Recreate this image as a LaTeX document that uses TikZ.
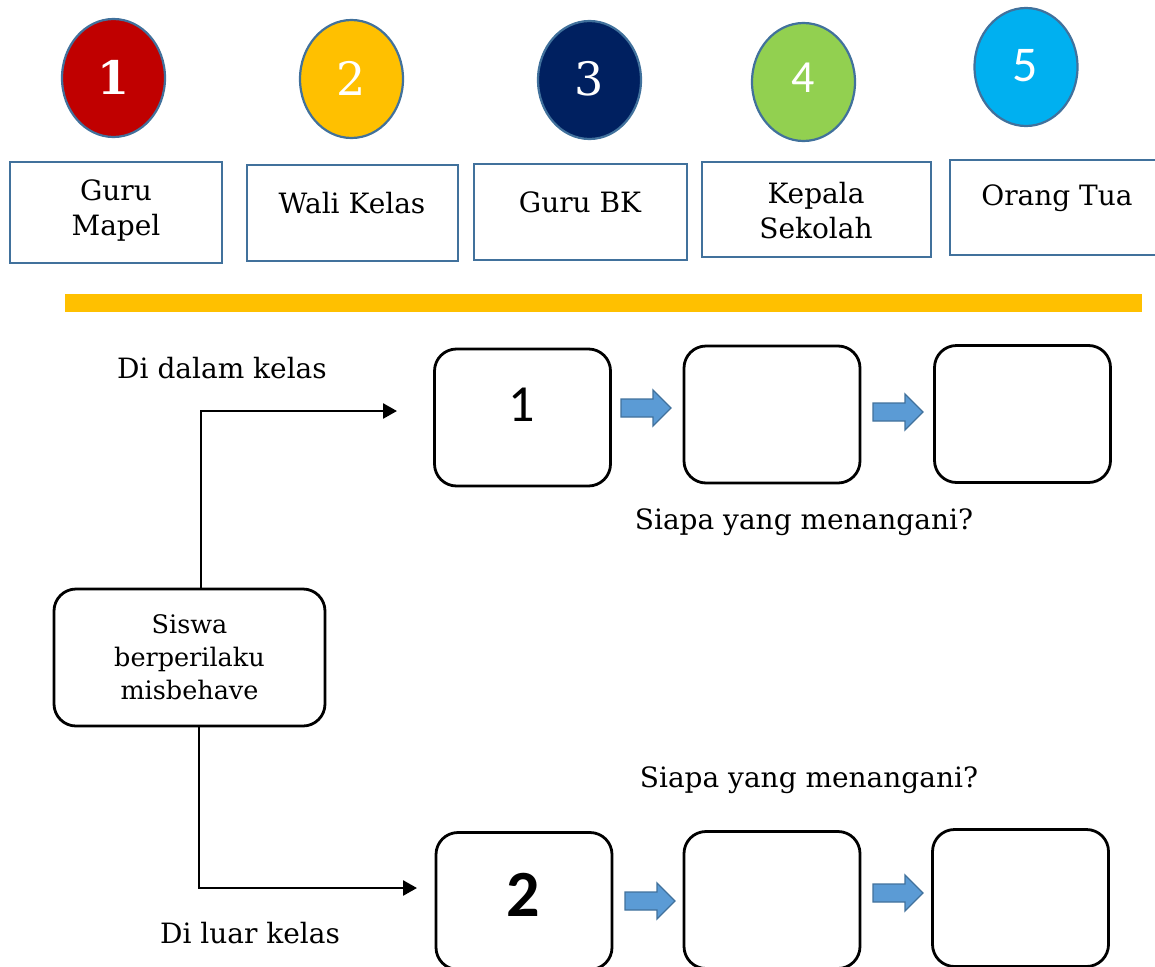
\documentclass[tikz,border=0pt]{standalone}
\usepackage{fontspec}
\setmainfont{DejaVu Serif}
\newfontfamily\calib{Carlito}
\usetikzlibrary{shapes.geometric,arrows.meta}
\definecolor{bord}{HTML}{41719C}
\definecolor{cred}{HTML}{C00000}
\definecolor{cyel}{HTML}{FFC000}
\definecolor{cnavy}{HTML}{002060}
\definecolor{cgreen}{HTML}{92D050}
\definecolor{ccyan}{HTML}{00B0F0}
\definecolor{ablue}{HTML}{5B9BD5}
\begin{document}
\begin{tikzpicture}[x=1pt,y=-1pt,
  circ/.style={ellipse,draw=bord,line width=2.2pt,minimum width=103pt,minimum height=118pt,inner sep=0pt},
  rolebox/.style={rectangle,draw=bord,line width=2.8pt,inner sep=0pt},
  txt/.style={font=\fontsize{28}{35}\selectfont,align=center,inner sep=0pt},
  num/.style={text=white,inner sep=0pt},
  rbox/.style={rectangle,rounded corners=22pt,draw=black,line width=2.8pt,minimum width=176pt,minimum height=137pt,inner sep=0pt},
  conn/.style={draw=black,line width=2.6pt,-{Triangle[length=14pt,width=15pt]}},
  blockarrow/.pic={\draw[draw=bord,fill=ablue,line width=1.3pt,line join=miter]
     (-25,-9) -- (7,-9) -- (7,-18) -- (25,0) -- (7,18) -- (7,9) -- (-25,9) -- cycle;}
]
\useasboundingbox (0,0) rectangle (1155,966);

% circles
\node[circ,fill=cred]   (c1) at (113.5,78) {};
\node[circ,fill=cyel]   (c2) at (351.5,79) {};
\node[circ,fill=cnavy]  (c3) at (589.5,80) {};
\node[circ,fill=cgreen] (c4) at (803.5,82) {};
\node[circ,fill=ccyan]  (c5) at (1026,67) {};
\node[num,font=\fontsize{46}{46}\selectfont\bfseries] (n1) at (113.5,77) {1};
\node[num,font=\fontsize{46}{46}\selectfont] (n2) at (351.5,78) {2};
\node[num,font=\fontsize{46}{46}\selectfont] (n3) at (589.5,79) {3};
\node[num,font=\calib\fontsize{46}{46}\selectfont] (n4) at (803.5,78) {4};
\node[num,font=\calib\fontsize{50}{50}\selectfont] (n5) at (1025,66) {5};

% role boxes
\draw[rolebox] (10,162) rectangle (222,263);
\draw[rolebox] (247,165) rectangle (458,261);
\draw[rolebox] (474,164) rectangle (687,260);
\draw[rolebox] (702,162) rectangle (931,257);
\draw[rolebox] (950,160) rectangle (1165,255);
\node[txt] (t1) at (116,211) {Guru\\Mapel};
\node[txt] (t2) at (352,203) {Wali Kelas};
\node[txt] (t3) at (580,202) {Guru BK};
\node[txt] (t4) at (816,211) {Kepala\\Sekolah};
\node[txt] (t5) at (1057,198) {Orang Tua};

% orange bar
\fill[cyel] (65,294) rectangle (1142,312);

% flow
\node[rbox] (a1) at (522.5,417.5) {};
\node[rbox] (a2) at (772,414.5) {};
\node[rbox] (a3) at (1022.5,414) {};
\node[rbox] (b1) at (524,901) {};
\node[rbox] (b2) at (772,900) {};
\node[rbox] (b3) at (1020.5,898) {};
\node[font=\calib\fontsize{52}{52}\selectfont,inner sep=0pt] (a1n) at (522,405) {1};
\node[font=\calib\fontsize{66}{66}\selectfont\bfseries,inner sep=0pt] (b1n) at (523,895) {2};

\pic at (646,408) {blockarrow};
\pic at (898,412) {blockarrow};
\pic at (650,901) {blockarrow};
\pic at (898,893) {blockarrow};

\node[txt,font=\fontsize{25.5}{33}\selectfont] (s) at (189.5,657.5) [rectangle,rounded corners=22pt,draw=black,line width=2.8pt,minimum width=271pt,minimum height=137pt] {Siswa\\berperilaku\\misbehave};

\coordinate (e1) at (397,411);
\coordinate (e2) at (417,888);
\draw[conn] ([xshift=11.5pt]s.north) |- (e1);
\draw[conn] ([xshift=9.5pt]s.south) |- (e2);

\node[txt] (l1) at (222,368) {Di dalam kelas};
\node[txt] (l2) at (250,933) {Di luar kelas};
\node[txt] (q1) at (804,522) {Siapa yang menangani?};
\node[txt] (q2) at (809,780) {Siapa yang menangani?};
\end{tikzpicture}
\end{document}
